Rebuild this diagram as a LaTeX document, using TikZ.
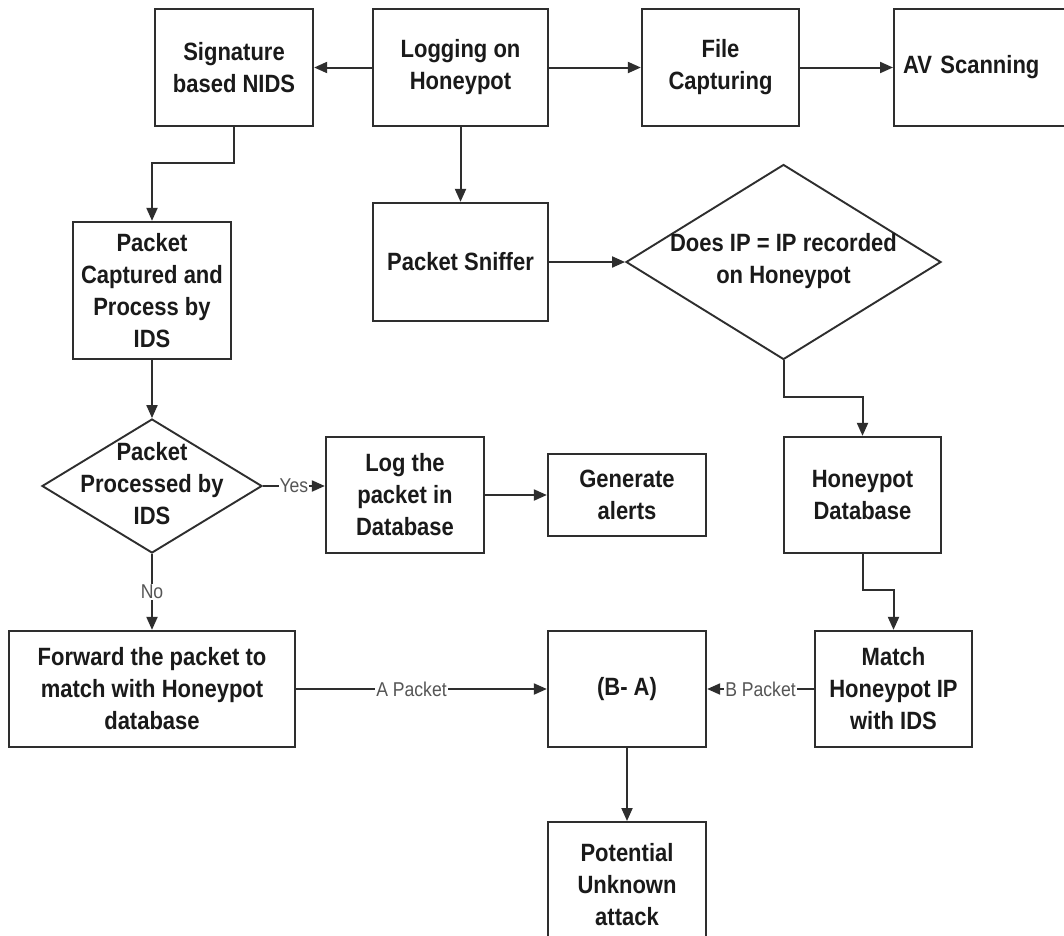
\documentclass[tikz,border=0pt]{standalone}
\usepackage{fontspec}
\setmainfont{Liberation Sans}[FakeStretch=0.88]
\usetikzlibrary{shapes.geometric,arrows.meta}
\definecolor{ln}{HTML}{2E2E2E}
\definecolor{tx}{HTML}{1A1A1A}
\definecolor{lb}{HTML}{555555}
\begin{document}
\begin{tikzpicture}[x=1pt,y=-1pt,
  box/.style={draw=ln, line width=2.3pt, rectangle, align=center, inner sep=2pt,
    text=tx, font=\bfseries\fontsize{25}{32}\selectfont},
  dia/.style={draw=ln, line width=1.9pt, diamond, inner sep=0pt},
  dtext/.style={align=center, text=tx, font=\bfseries\fontsize{25}{32}\selectfont},
  arr/.style={draw=ln, line width=2pt, -{Triangle[length=13pt,width=11pt]}},
  lbl/.style={fill=white, inner sep=1pt, text=lb, font=\fontsize{20}{24}\selectfont}]
\useasboundingbox (0,0) rectangle (1064,935);
\clip (0,0) rectangle (1064,935);
\fill[white] (0,0) rectangle (1064,935);

% top row
\node[box, minimum width=158pt, minimum height=117pt] (sig) at (234,67.5) {Signature\\based NIDS};
\node[box, minimum width=175pt, minimum height=117pt] (log) at (460.5,67.5) {Logging on\\Honeypot};
\node[box, minimum width=157pt, minimum height=117pt] (file) at (720.5,67.5) {File\\Capturing};
\node[box, anchor=west, minimum height=117pt, text width=170pt, inner xsep=9pt, align=left] (av) at (893,67.5) {AV Scanning};

% second row
\node[box, minimum width=175pt, minimum height=118pt] (snif) at (460.5,262) {Packet Sniffer};
\node[dia, minimum width=315pt, minimum height=195pt] (ipd) at (783.5,262) {};
\node[dtext] (ipdt) at (783.5,261.5) {Does IP = IP recorded\\on Honeypot};

\node[box, minimum width=158pt, minimum height=137pt] (pcap) at (152,290.5) {Packet\\Captured and\\Process by\\IDS};

% third row
\node[dia, minimum width=220pt, minimum height=134pt] (pdia) at (152,486) {};
\node[dtext] (pdiat) at (152,484) {Packet\\Processed by\\IDS};
\node[box, minimum width=158pt, minimum height=116pt] (logdb) at (405,495) {Log the\\packet in\\Database};
\node[box, minimum width=158pt, minimum height=82pt] (gen) at (627,495) {Generate\\alerts};
\node[box, minimum width=157pt, minimum height=116pt] (hdb) at (862.5,495) {Honeypot\\Database};

% fourth row
\node[box, minimum width=286pt, minimum height=116pt] (fwd) at (152,689) {Forward the packet to\\match with Honeypot\\database};
\node[box, minimum width=158pt, minimum height=116pt] (ba) at (627,689) {(B- A)};
\node[box, minimum width=157pt, minimum height=116pt] (match) at (893.5,689) {Match\\Honeypot IP\\with IDS};
\node[box, anchor=north, minimum width=158pt, minimum height=124pt] (pot) at (627,821) {Potential\\Unknown\\attack};

% connectors
\draw[arr] (log.west) -- (sig.east);
\draw[arr] (log.east) -- (file.west);
\draw[arr] (file.east) -- (av.west);
\draw[arr] (sig.south) -- ++(0,36) -| (pcap.north);
\draw[arr] (log.south) -- (snif.north);
\draw[arr] (snif.east) -- (ipd.west);
\draw[arr] (ipd.south) -- ++(0,37) -| (hdb.north);
\draw[arr] (pcap.south) -- (pdia.north);
\draw[arr] (pdia.east) -- node[lbl] {Yes} (pdia.east -| logdb.west);
\draw[arr] (logdb.east) -- (gen.west);
\draw[arr] (pdia.south) -- node[lbl] {No} (fwd.north);
\draw[arr] (fwd.east) -- node[lbl, pos=0.46] {A Packet} (ba.west);
\draw[arr] (match.west) -- node[lbl] {B Packet} (ba.east);
\draw[arr] (hdb.south) -- ++(0,36) -| (match.north);
\draw[arr] (ba.south) -- (pot.north);
\end{tikzpicture}
\end{document}
